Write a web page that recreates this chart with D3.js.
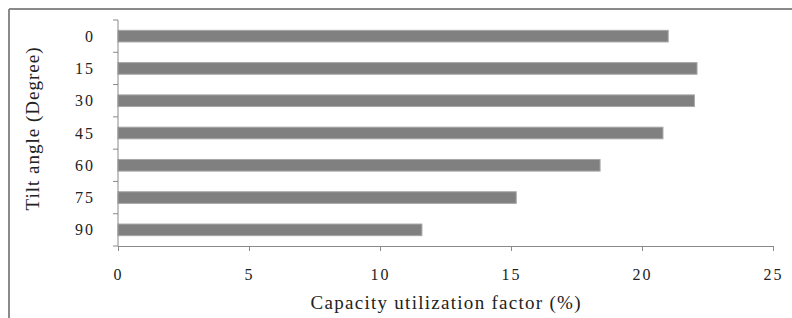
<!DOCTYPE html>
<html>
<head>
<meta charset="utf-8">
<script src="https://cdn.jsdelivr.net/npm/d3@7"></script>
<style>
  body { margin: 0; background: #fff; }
  svg { display: block; }
  text { font-family: "Liberation Serif", "Times New Roman", serif; fill: #222; }
</style>
</head>
<body>
<div id="chart"></div>
<script>
var width = 792, height = 318;

// data
var angles = ["0", "15", "30", "45", "60", "75", "90"];
var cuf = [21.0, 22.1, 22.0, 20.8, 18.4, 15.2, 11.6];
var xTicks = [0, 5, 10, 15, 20, 25];

// plot area (window.top is reserved, so use other names)
var plotLeft = 118, plotRight = 773, plotTop = 20, plotBottom = 246;

var svg = d3.select("#chart").append("svg")
    .attr("width", width)
    .attr("height", height);

// outer frame (only top and left edges show)
svg.append("line")
    .attr("x1", 9).attr("x2", width).attr("y1", 9).attr("y2", 9)
    .attr("stroke", "#8a8a8a").attr("stroke-width", 2);
svg.append("line")
    .attr("x1", 9).attr("x2", 9).attr("y1", 9).attr("y2", height)
    .attr("stroke", "#8a8a8a").attr("stroke-width", 2);

var x = d3.scaleLinear()
    .domain([0, 25])
    .range([plotLeft, plotRight]);

var y = d3.scaleBand()
    .domain(angles)
    .range([plotTop, plotBottom])
    .paddingInner(0.64)
    .paddingOuter(0.32);

// bars
svg.selectAll("rect.bar")
    .data(cuf)
    .enter().append("rect")
    .attr("class", "bar")
    .attr("x", x(0))
    .attr("y", function(d, i) { return y(angles[i]); })
    .attr("width", function(d) { return x(d) - x(0); })
    .attr("height", y.bandwidth())
    .attr("fill", "#808080")
    .attr("stroke", "#a6a6a6")
    .attr("stroke-width", 1);

// x axis
var xAxis = svg.append("g")
    .attr("transform", "translate(0," + plotBottom + ")")
    .call(d3.axisBottom(x).tickValues(xTicks).tickSize(5).tickPadding(18).tickSizeOuter(0));

xAxis.select(".domain").attr("stroke", "#8a8a8a");
xAxis.selectAll(".tick line").attr("stroke", "#8a8a8a");
xAxis.selectAll(".tick text")
    .style("font-size", "16px")
    .style("letter-spacing", "2px")
    .style("font-family", "'Liberation Serif', serif")
    .attr("fill", "#222");

// y axis: ticks between categories
var yEdges = d3.range(angles.length + 1).map(function(i) {
    return plotTop + i * (plotBottom - plotTop) / angles.length;
});
var yAxis = svg.append("g");
yAxis.append("line")
    .attr("x1", plotLeft).attr("x2", plotLeft)
    .attr("y1", plotTop).attr("y2", plotBottom);
yAxis.selectAll("line.tick")
    .data(yEdges)
    .enter().append("line")
    .attr("class", "tick")
    .attr("x1", plotLeft - 5).attr("x2", plotLeft)
    .attr("y1", function(d) { return d; })
    .attr("y2", function(d) { return d; });
yAxis.selectAll("line").attr("stroke", "#8a8a8a");

yAxis.selectAll("text")
    .data(angles)
    .enter().append("text")
    .attr("x", 95)
    .attr("y", function(d) { return y(d) + y.bandwidth() / 2; })
    .attr("dy", "0.35em")
    .attr("text-anchor", "end")
    .style("font-size", "16px")
    .style("letter-spacing", "2px")
    .text(function(d) { return d; });

// axis titles
svg.append("text")
    .attr("x", (plotLeft + plotRight) / 2)
    .attr("y", 309)
    .attr("text-anchor", "middle")
    .style("font-size", "19px")
    .attr("textLength", 270)
    .attr("lengthAdjust", "spacing")
    .text("Capacity utilization factor (%)");

svg.append("text")
    .attr("transform", "translate(39,129) rotate(-90)")
    .attr("text-anchor", "middle")
    .style("font-size", "19px")
    .attr("textLength", 163)
    .attr("lengthAdjust", "spacing")
    .text("Tilt angle (Degree)");
</script>
</body>
</html>
